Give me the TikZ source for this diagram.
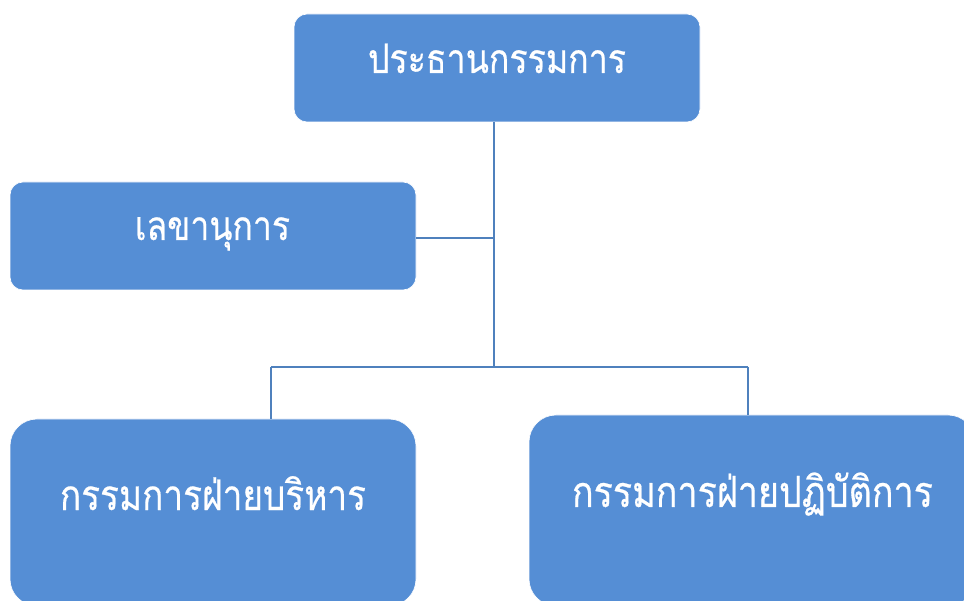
\documentclass[tikz,border=0pt]{standalone}
\usepackage{fontspec}
\newfontfamily\thaifont[Script=Thai,FakeBold=0.5]{Loma}
\definecolor{boxblue}{RGB}{85,142,213}
\definecolor{lineblue}{RGB}{79,129,189}
\tikzset{
  orgbox/.style={fill=boxblue, draw=white, line width=0.6pt},
  orgtext/.style={text=white, font=\thaifont, inner sep=0pt, anchor=base},
  conn/.style={draw=lineblue, line width=2pt}
}
\newcommand{\fitlabel}[2]{\resizebox{#1}{!}{\scalebox{1}[1.2]{#2}}}
\begin{document}
\begin{tikzpicture}[x=1pt,y=-1pt]
\useasboundingbox (0,0) rectangle (964,601);
% boxes
\path[orgbox, rounded corners=13pt] (294,14) rectangle (700,122);
\path[orgbox, rounded corners=13pt] (10,182) rectangle (416,290);
\path[orgbox, rounded corners=27pt] (10,419) rectangle (416,606);
\path[orgbox, rounded corners=27pt] (529,415) rectangle (975,606);
% anchor points (box edges)
\coordinate (top) at (494,122);
\coordinate (secr) at (416,238);
\coordinate (junc) at (494,238);
\coordinate (bar) at (494,367);
\coordinate (barL) at (271,367);
\coordinate (barR) at (748,367);
\coordinate (exec) at (271,419);
\coordinate (oper) at (748,415);
% labels
\node[orgtext] (t1) at (497,73) {\fitlabel{258pt}{ประธานกรรมการ}};
\node[orgtext] (t2) at (212.5,240) {\fitlabel{155pt}{เลขานุการ}};
\node[orgtext] (t3) at (213,510) {\fitlabel{306pt}{กรรมการฝ่ายบริหาร}};
\node[orgtext] (t4) at (752.5,507) {\fitlabel{361pt}{กรรมการฝ่ายปฏิบัติการ}};
% connectors
\draw[conn] (top) -- (bar);
\draw[conn] (secr) -- (junc);
\draw[conn] (barL) -- (barR);
\draw[conn] (barL) -- (exec);
\draw[conn] (barR) -- (oper);
\end{tikzpicture}
\end{document}
